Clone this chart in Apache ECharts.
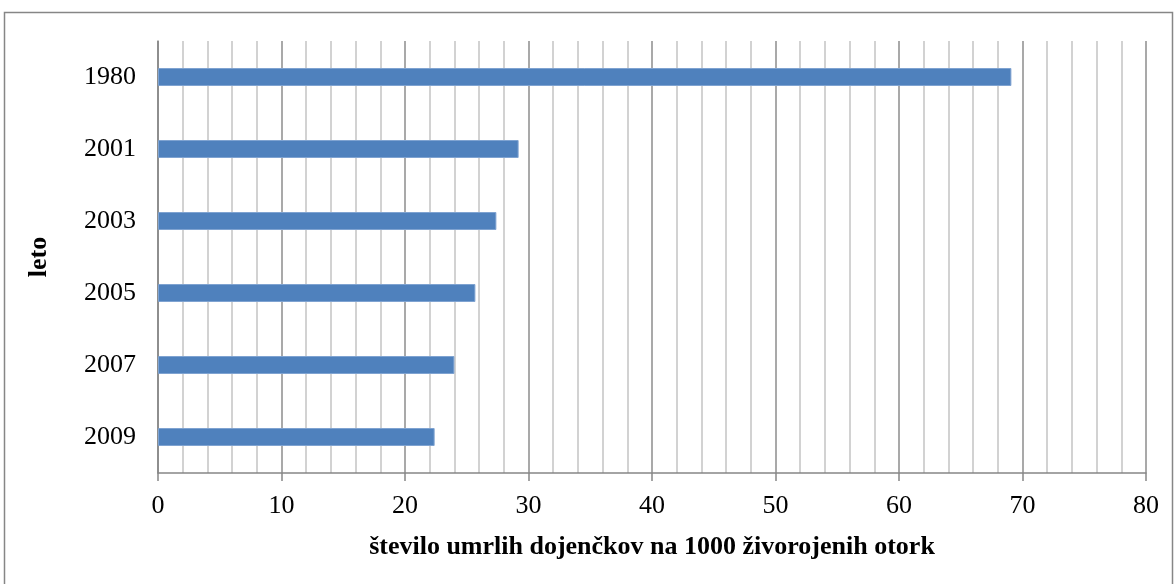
<!DOCTYPE html>
<html>
<head>
<meta charset="utf-8">
<script src="https://cdn.jsdelivr.net/npm/echarts@6/dist/echarts.min.js"></script>
<style>
  html, body { margin: 0; padding: 0; background: #fff; }
  #chart { width: 1174px; height: 584px; }
</style>
</head>
<body>
<div id="chart"></div>
<script>
// years (top to bottom) and infant deaths per 1000 live births
const years = ['1980', '2001', '2003', '2005', '2007', '2009'];
const deaths = [69.1, 29.2, 27.4, 25.7, 24.0, 22.4];

const xName = 'število umrlih dojenčkov na 1000 živorojenih otork';
const yName = 'leto';

const serif = '"Liberation Serif", "DejaVu Serif", serif';

const chart = echarts.init(document.getElementById('chart'));

chart.setOption({
  animation: false,
  grid: {
    left: 158,
    right: 28,
    top: 41,
    bottom: 111
  },
  graphic: [{
    type: 'rect',
    shape: { x: 4.5, y: 12.5, width: 1168, height: 600 },
    style: { fill: 'none', stroke: '#868686', lineWidth: 1.5 },
    silent: true
  }],
  xAxis: {
    type: 'value',
    min: 0,
    max: 80,
    interval: 10,
    name: xName,
    nameLocation: 'middle',
    nameGap: 61,
    nameTextStyle: { fontFamily: serif, fontSize: 26, fontWeight: 'bold', color: '#000' },
    axisLine: { show: true, lineStyle: { color: '#868686', width: 1.5 } },
    axisTick: { show: true, length: 8, lineStyle: { color: '#868686', width: 1.5 } },
    axisLabel: { fontFamily: serif, fontSize: 26, color: '#000', margin: 20 },
    splitLine: { show: true, lineStyle: { color: '#8c8c8c', width: 1.5 } },
    minorTick: { show: false, splitNumber: 5 },
    minorSplitLine: { show: true, lineStyle: { color: '#c4c4c4', width: 1.5 } }
  },
  yAxis: {
    type: 'category',
    data: years,
    inverse: true,
    name: yName,
    nameLocation: 'middle',
    nameGap: 106,
    nameRotate: 90,
    nameTextStyle: { fontFamily: serif, fontSize: 26, fontWeight: 'bold', color: '#000' },
    axisLine: { show: true, lineStyle: { color: '#868686', width: 1.5 } },
    axisTick: { show: false },
    axisLabel: { fontFamily: serif, fontSize: 26, color: '#000', margin: 22 },
    splitLine: { show: false }
  },
  series: [{
    type: 'bar',
    data: deaths,
    barWidth: 18,
    itemStyle: { color: '#4F81BD', borderColor: '#7fa3d1', borderWidth: 1 }
  }]
});
</script>
</body>
</html>
